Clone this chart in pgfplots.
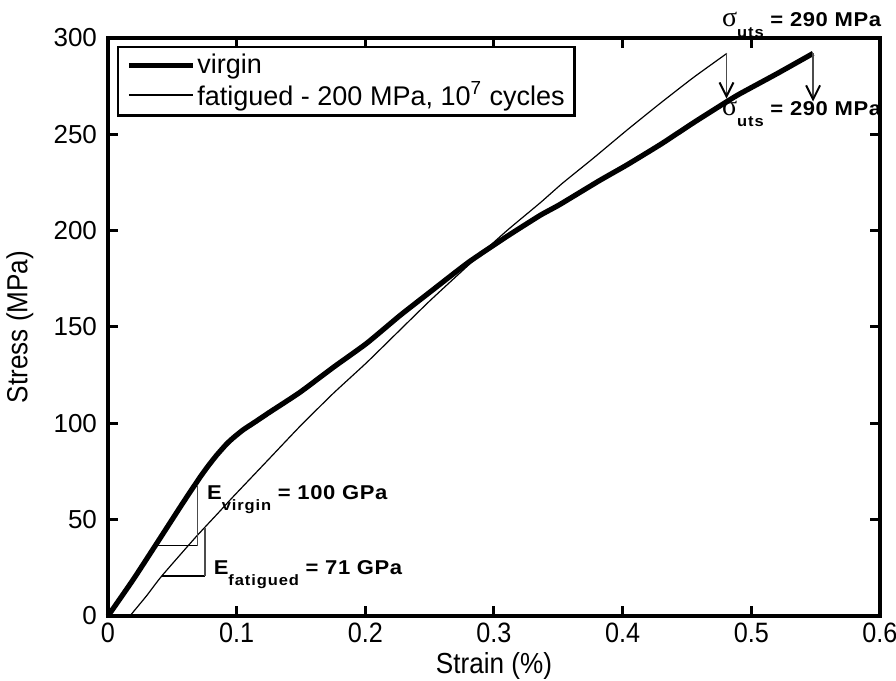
\documentclass[border=0pt]{standalone}
\usepackage{fontspec}
\setmainfont{Liberation Sans}
\newfontfamily\condfont[FakeStretch=0.9]{Liberation Sans}
\newfontfamily\annfont[FakeStretch=1.1,LetterSpace=3]{Liberation Sans}
\newfontfamily\subfont[FakeStretch=1.1,LetterSpace=6]{Liberation Sans}
\newfontfamily\sigfont{Liberation Serif}
\usepackage{pgfplots}
\pgfplotsset{compat=1.18}
\usetikzlibrary{arrows.meta}

\pgfplotstableread{
x y
0 0
0.0197 19
0.038 37.8
0.0585 59
0.0715 72
0.078 78
0.0845 83.5
0.0922 89.3
0.0974 92.5
0.105 96.6
0.115 101
0.125 105.5
0.149 116
0.175 129
0.201 141.5
0.227 156
0.25 168
0.28 183.5
0.31 197
0.336 208
0.351 213.5
0.382 226
0.403 234
0.43 245
0.455 256
0.481 267
0.491 271
0.52 281.5
0.548 292
}\virgin

\pgfplotstableread{
x y
0.017 0
0.03 10.5
0.0417 20.7
0.0676 40.5
0.0857 53.5
0.0974 62
0.123 80
0.149 98.3
0.175 115.5
0.201 131.5
0.227 148.5
0.25 163.5
0.28 182
0.31 200
0.336 214.5
0.353 224.5
0.377 237.5
0.403 252
0.429 266
0.455 279.5
0.481 292
}\fatigued

\newcommand{\annmain}{\annfont\bfseries\fontsize{10}{10}\selectfont}
\newcommand{\annsub}[1]{\raisebox{-5.5pt}{\subfont\bfseries\fontsize{7.5}{7.5}\selectfont #1}}
\newcommand{\sig}{{\sigfont\fontsize{14}{14}\selectfont σ}}

\begin{document}
\begin{tikzpicture}
\begin{axis}[
  at={(0,0)}, anchor=south west,
  scale only axis, width=386pt, height=289pt,
  xmin=0, xmax=0.6, ymin=0, ymax=300,
  clip=false,
  xtick={0,0.1,0.2,0.3,0.4,0.5,0.6},
  xticklabels={0,0.1,0.2,0.3,0.4,0.5,0.6},
  ytick={0,50,100,150,200,250,300},
  /pgf/number format/assume math mode=true,
  axis line style={line width=2pt},
  tick style={line width=1.5pt, black},
  major tick length=5pt,
  tick align=inside,
  xticklabel style={font=\condfont\fontsize{14}{14}\selectfont},
  yticklabel style={font=\fontsize{13}{13}\selectfont, xshift=-2pt},
  xlabel={Strain (\%)},
  ylabel={Stress (MPa)},
  every axis x label/.style={at={(axis description cs:0.5,-0.0862)}, anchor=center, font=\condfont\fontsize{14.5}{14.5}\selectfont},
  every axis y label/.style={at={(axis description cs:-0.114,0.5)}, anchor=center, rotate=90, font=\condfont\fontsize{14.5}{14.5}\selectfont},
  legend style={at={(rel axis cs:0.0117,0.986)}, anchor=north west,
    draw=black, line width=1.2pt, inner xsep=4pt, inner ysep=2.5pt,
    font=\fontsize{13.5}{13.5}\selectfont, row sep=0.5pt,
    nodes={inner sep=1pt}},
  legend cell align=left,
  legend image code/.code={\draw[#1] (0pt,0pt) -- (32pt,0pt);},
]
\addplot[black, line width=2.6pt, line join=round, smooth, tension=0.3] table[x=x,y=y]{\virgin};
\addlegendentry{virgin}
\addplot[black, line width=0.6pt, smooth, tension=0.3] table[x=x,y=y]{\fatigued};
\addlegendentry{fatigued - 200 MPa, 10\textsuperscript{7} cycles}

% modulus triangles
\draw[black, line width=0.8pt] (axis cs:0.0378,36.5) -- (axis cs:0.0694,36.5);
\draw[black!70, line width=0.6pt] (axis cs:0.0694,36.5) -- (axis cs:0.0694,68);
\draw[black, line width=0.6pt] (axis cs:0.0417,20.8) -- (axis cs:0.0754,20.8);
\draw[black!70, line width=0.6pt] (axis cs:0.0754,20.8) -- (axis cs:0.0754,45.5);
\node[anchor=base west, inner sep=0pt] at (axis cs:0.0767,60.7) {\annmain E\annsub{virgin}\annmain\ = 100 GPa};
\node[anchor=base west, inner sep=0pt] at (axis cs:0.0819,21.3) {\annmain E\annsub{fatigued}\annmain\ = 71 GPa};

% UTS arrows
\draw[black!70, line width=0.6pt, -{Straight Barb[length=7pt,width=7pt,line width=1pt,color=black]}] (axis cs:0.4807,292) -- (axis cs:0.4807,268.5);
\draw[black!70, line width=0.6pt, -{Straight Barb[length=7pt,width=7pt,line width=1pt,color=black]}] (axis cs:0.548,292) -- (axis cs:0.548,267);
\node[anchor=base west, inner sep=0pt] at (axis cs:0.477,305.9) {\sig\annsub{uts}\annmain\ = 290 MPa};
\node[anchor=base west, inner sep=0pt] at (axis cs:0.477,260) {\sig\annsub{uts}\annmain\ = 290 MPa};
\end{axis}
\pgfresetboundingbox
\path (-54pt,-32.5pt) rectangle (394pt,308pt);
\end{tikzpicture}
\end{document}
